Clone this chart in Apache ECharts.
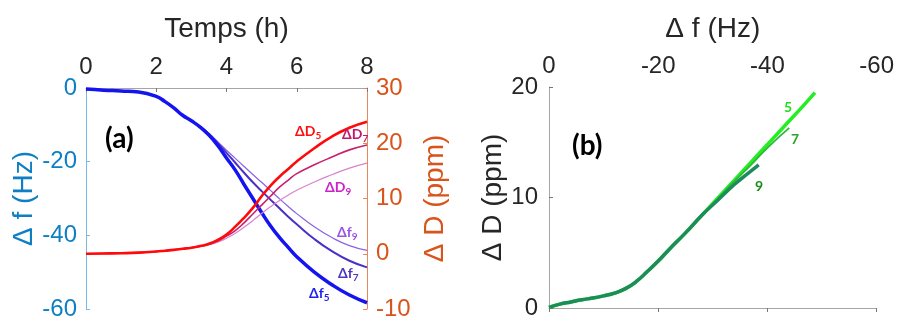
<!DOCTYPE html>
<html><head><meta charset="utf-8">
<script src="https://cdn.jsdelivr.net/npm/echarts@6/dist/echarts.min.js"></script>
<style>html,body{margin:0;padding:0;background:#fff}#c{width:897px;height:323px}</style>
</head><body><div id="c"></div>
<script>
// ---- Panel (a): time series ----
var timeH = [0,0.5,1,1.5,2,2.25,2.5,2.75,3,3.25,3.5,3.75,4,4.25,4.5,4.75,5,5.25,5.5,5.75,6,6.5,7,7.5,8];
var df5 = [-0.3,-0.6,-0.8,-1.1,-2.3,-3.7,-5.4,-7.4,-8.9,-10.6,-12.8,-15.6,-19.0,-22.3,-26.2,-30.0,-33.8,-37.4,-40.5,-43.2,-45.8,-50.0,-53.4,-56.2,-58.3];
var df7 = [-0.3,-0.6,-0.8,-1.1,-2.3,-3.7,-5.4,-7.4,-8.9,-10.5,-12.5,-15.0,-17.6,-20.3,-23.0,-25.6,-28.0,-30.3,-32.6,-34.9,-37.0,-41.0,-44.3,-46.9,-48.7];
var df9 = [-0.3,-0.6,-0.8,-1.1,-2.3,-3.7,-5.4,-7.4,-8.9,-10.4,-12.3,-14.6,-16.9,-19.1,-21.3,-23.5,-25.6,-27.8,-30.0,-32.1,-34.1,-37.7,-40.6,-42.8,-44.1];
var dD5 = [0,0.05,0.1,0.2,0.4,0.55,0.7,0.9,1.1,1.4,1.8,2.5,3.5,4.9,6.5,8.3,10.4,12.3,13.9,15.3,16.7,19.1,21.2,22.8,23.9];
var dD7 = [0,0.05,0.1,0.2,0.4,0.55,0.7,0.9,1.1,1.35,1.7,2.3,3.2,4.2,5.6,7.2,8.8,10.4,12.0,13.3,14.5,16.1,17.5,18.8,19.7];
var dD9 = [0,0.05,0.1,0.2,0.4,0.55,0.7,0.9,1.05,1.3,1.6,2.1,2.8,3.7,4.8,6.0,7.3,8.5,9.6,10.6,11.5,13.0,14.3,15.5,16.4];
// ---- Panel (b): ΔD vs Δf ----
var bF5 = [0,-2,-4,-6,-8,-10,-12,-14,-16,-18,-20,-22,-25,-28,-31,-34,-37,-40,-43,-46,-48.7];
var bD5 = [0.05,0.35,0.55,0.75,0.9,1.1,1.35,1.75,2.4,3.3,4.25,5.3,6.8,8.4,10.0,11.6,13.2,14.8,16.4,18.0,19.5];
var bF7 = [0,-2,-4,-6,-8,-10,-12,-14,-16,-18,-20,-22,-25,-28,-31,-34,-37,-40,-44];
var bD7 = [0.05,0.35,0.55,0.75,0.9,1.1,1.35,1.75,2.4,3.3,4.25,5.3,6.8,8.4,9.95,11.5,12.95,14.5,16.3];
var bF9 = [0,-2,-4,-6,-8,-10,-12,-14,-16,-18,-20,-22,-25,-28,-31,-34,-36.5,-38.4];
var bD9 = [0.05,0.35,0.55,0.75,0.9,1.1,1.35,1.75,2.4,3.3,4.25,5.3,6.8,8.4,9.8,11.2,12.2,12.95];

function pairs(xs, ys){ return xs.map(function(x,i){ return [x, ys[i]]; }); }

var FONT = 'Liberation Sans';
var BLUE = '#0e7fc4', ORANGE = '#d9531a', DARK = '#262626';
var TICK = 24, NAME = 28;

var chart = echarts.init(document.getElementById('c'), null, {renderer:'canvas'});

function sub(main, s, color, x, y){
  return {type:'text', left:x, top:y, z:100, style:{
    text:'{m|'+main+'}{s|'+s+'}',
    rich:{ m:{fontFamily:'Lato', fontWeight:'bold', fontSize:14, lineHeight:14, verticalAlign:'top', fill:color, color:color},
           s:{fontFamily:'Lato', fontWeight:'bold', fontSize:10, lineHeight:10, padding:[7,0,0,0], verticalAlign:'top', fill:color, color:color} }
  }};
}
function plain(t, color, x, y, size){
  return {type:'text', left:x, top:y, z:100, style:{text:t, fontFamily:'Lato', fontWeight:'bold', fontSize:size, fill:color}};
}

var option = {
  animation:false,
  backgroundColor:'#fff',
  grid:[
    {left:86, top:88, width:281, height:221},
    {left:549, top:87, width:330, height:221}
  ],
  xAxis:[
    {gridIndex:0, type:'value', position:'top', min:0, max:8, interval:2,
     name:'Temps (h)', nameLocation:'middle', nameGap:45,
     nameTextStyle:{fontFamily:FONT, fontSize:NAME, color:DARK},
     axisLine:{show:true, lineStyle:{color:'#a6a6a6', width:1}},
     axisTick:{show:true, inside:true, length:4, lineStyle:{color:'#777'}},
     axisLabel:{fontFamily:FONT, fontSize:TICK, color:DARK, margin:9},
     splitLine:{show:false}},
    {gridIndex:1, type:'value', position:'top', min:-60, max:0, interval:20, inverse:true,
     name:'Δ f (Hz)', nameLocation:'middle', nameGap:44,
     nameTextStyle:{fontFamily:FONT, fontSize:NAME, color:DARK},
     axisLine:{show:true, lineStyle:{color:'#a6a6a6', width:1}},
     axisTick:{show:true, inside:true, length:4, lineStyle:{color:'#777'}},
     axisLabel:{fontFamily:FONT, fontSize:TICK, color:DARK, margin:9},
     splitLine:{show:false}}
  ],
  yAxis:[
    {gridIndex:0, type:'value', position:'left', min:-60, max:0, interval:20,
     name:'Δ f (Hz)', nameLocation:'middle', nameGap:47,
     nameTextStyle:{fontFamily:FONT, fontSize:NAME, color:BLUE},
     axisLine:{show:true, lineStyle:{color:'#7ab8e6', width:1}},
     axisTick:{show:true, inside:true, length:4, lineStyle:{color:'#7ab8e6'}},
     axisLabel:{fontFamily:FONT, fontSize:TICK, color:BLUE, margin:9},
     splitLine:{show:false}},
    {gridIndex:0, type:'value', position:'right', min:-10, max:30, interval:10,
     name:'Δ D (ppm)', nameLocation:'middle', nameGap:54,
     nameTextStyle:{fontFamily:FONT, fontSize:NAME, color:ORANGE},
     axisLine:{show:true, lineStyle:{color:'#e8875a', width:1}},
     axisTick:{show:true, inside:true, length:4, lineStyle:{color:'#e8875a'}},
     axisLabel:{fontFamily:FONT, fontSize:TICK, color:ORANGE, margin:9},
     splitLine:{show:false}},
    {gridIndex:1, type:'value', position:'left', min:0, max:20, interval:10,
     name:'Δ D (ppm)', nameLocation:'middle', nameGap:40,
     nameTextStyle:{fontFamily:FONT, fontSize:NAME, color:DARK},
     axisLine:{show:true, lineStyle:{color:'#a6a6a6', width:1}},
     axisTick:{show:true, inside:true, length:4, lineStyle:{color:'#777'}},
     axisLabel:{fontFamily:FONT, fontSize:TICK, color:DARK, margin:11},
     splitLine:{show:false}}
  ],
  series:[
    {type:'line', xAxisIndex:0, yAxisIndex:0, data:pairs(timeH, df9), smooth:true, showSymbol:false, lineStyle:{color:'#8a62e6', width:1.2}},
    {type:'line', xAxisIndex:0, yAxisIndex:0, data:pairs(timeH, df7), smooth:true, showSymbol:false, lineStyle:{color:'#4a2fc8', width:2}},
    {type:'line', xAxisIndex:0, yAxisIndex:0, data:pairs(timeH, df5), smooth:true, showSymbol:false, lineStyle:{color:'#1414f0', width:3.5}},
    {type:'line', xAxisIndex:0, yAxisIndex:1, data:pairs(timeH, dD9), smooth:true, showSymbol:false, lineStyle:{color:'#d884cc', width:1.2}},
    {type:'line', xAxisIndex:0, yAxisIndex:1, data:pairs(timeH, dD7), smooth:true, showSymbol:false, lineStyle:{color:'#c8206a', width:1.6}},
    {type:'line', xAxisIndex:0, yAxisIndex:1, data:pairs(timeH, dD5), smooth:true, showSymbol:false, lineStyle:{color:'#ff0a0a', width:2.6}},
    {type:'line', xAxisIndex:1, yAxisIndex:2, data:pairs(bF5, bD5), smooth:true, showSymbol:false, lineStyle:{color:'#22ee22', width:3.5}},
    {type:'line', xAxisIndex:1, yAxisIndex:2, data:pairs(bF7, bD7), smooth:true, showSymbol:false, lineStyle:{color:'#2eb83a', width:1.8}},
    {type:'line', xAxisIndex:1, yAxisIndex:2, data:pairs(bF9, bD9), smooth:true, showSymbol:false, lineStyle:{color:'#1e8c5a', width:3.5}}
  ],
  graphic:[
    plain('(a)', '#000', 105, 125, 28),
    plain('(b)', '#000', 572, 132, 28),
    sub('ΔD','5','#ff1010', 295, 124),
    sub('ΔD','7','#c0186f', 342, 127),
    sub('ΔD','9','#cc22cc', 325, 180),
    sub('Δf','9','#9a55e8', 337, 225),
    sub('Δf','7','#4a38c0', 338, 266),
    sub('Δf','5','#1f1fef', 309, 286),
    plain('5', '#22dd22', 784, 100, 14),
    plain('7', '#2aa52a', 791, 132, 14),
    plain('9', '#1a8a1a', 755, 179, 14)
  ]
};
chart.setOption(option);
</script>
</body></html>
